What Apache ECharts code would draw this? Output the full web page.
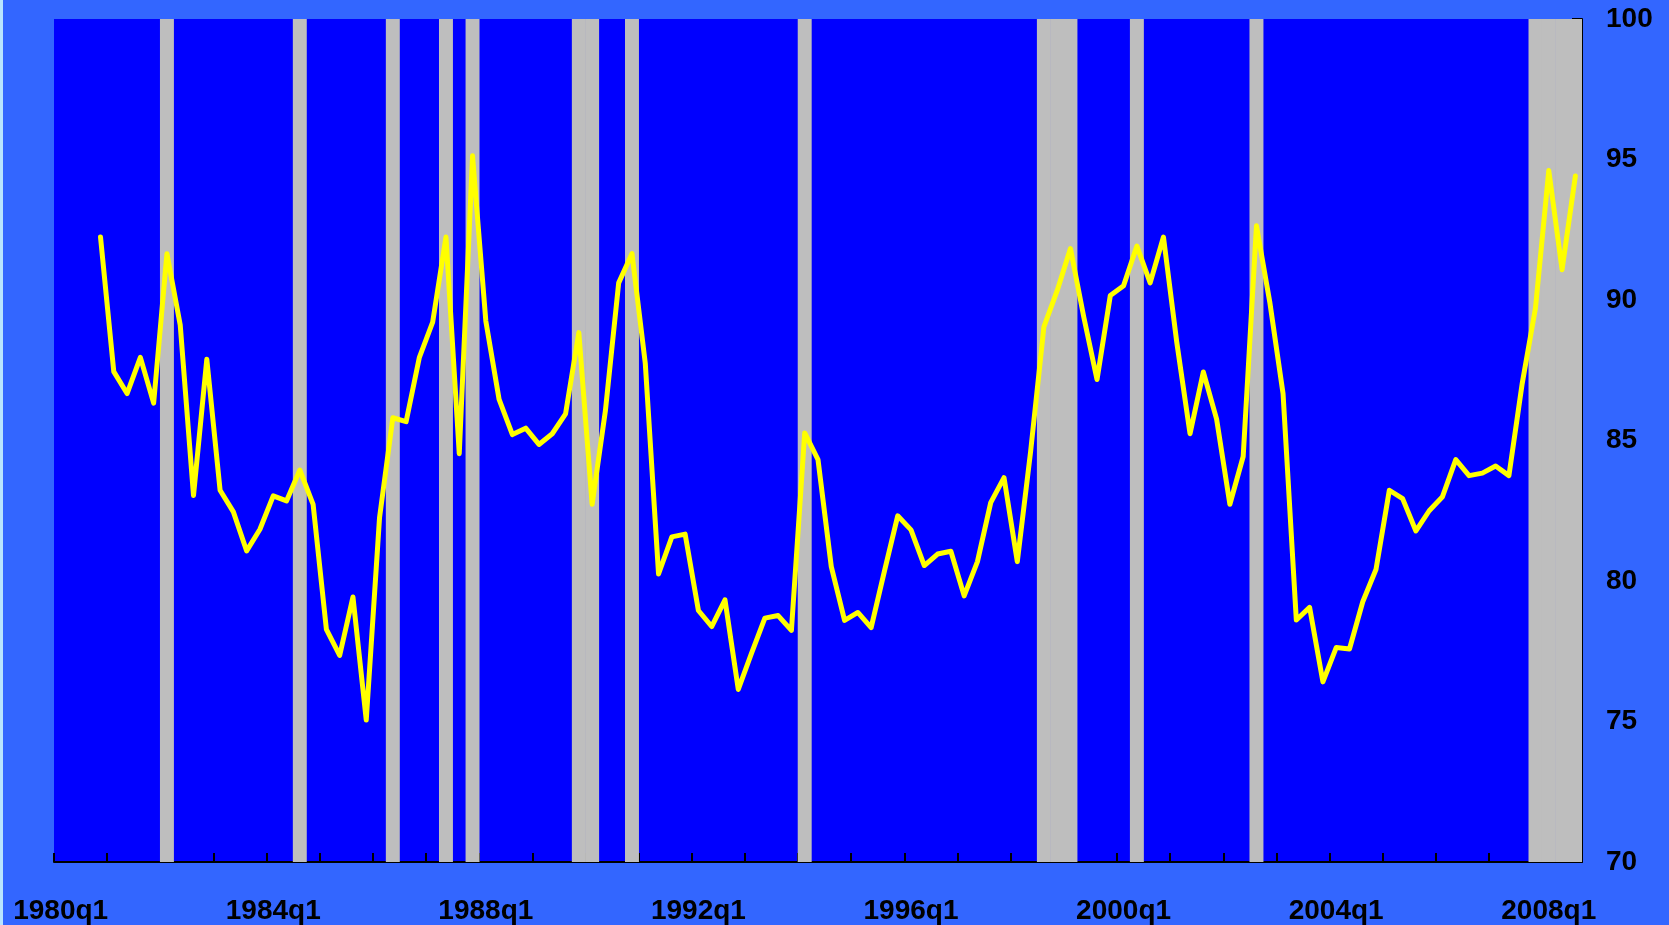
<!DOCTYPE html>
<html>
<head>
<meta charset="utf-8">
<script src="https://cdn.jsdelivr.net/npm/echarts@6/dist/echarts.min.js"></script>
<style>
  html, body { margin: 0; padding: 0; background: #3366FF; }
  #wrap { position: relative; width: 1669px; height: 925px; }
  #chart { width: 1669px; height: 925px; }
  #edge { position: absolute; left: 0; top: 0; width: 3px; height: 925px; background: #B8E4FF; }
</style>
</head>
<body>
<div id="wrap">
  <div id="chart"></div>
  <div id="edge"></div>
</div>
<script>
// Quarterly categories 1980q1 .. 2008q3
const firstYear = 1980;
const categoryCount = 115;
const categories = [];
for (let i = 0; i < categoryCount; i++) {
  categories.push((firstYear + Math.floor(i / 4)) + 'q' + (i % 4 + 1));
}

// Series values (null where there is no observation: 1980q1-1980q3)
const values = [
  null, null, null, 92.24,
  87.45, 86.67, 87.96, 86.33,
  91.65, 89.11, 83.04, 87.89,
  83.23, 82.46, 81.07, 81.84,
  83.03, 82.85, 83.95, 82.73,
  78.28, 77.35, 79.43, 75.05,
  82.25, 85.81, 85.67, 87.96,
  89.21, 92.24, 84.53, 95.13,
  89.25, 86.46, 85.21, 85.44,
  84.86, 85.24, 85.95, 88.84,
  82.73, 86.06, 90.61, 91.65,
  87.75, 80.25, 81.57, 81.67,
  78.95, 78.38, 79.33, 76.14,
  77.43, 78.68, 78.77, 78.24,
  85.27, 84.32, 80.51, 78.60,
  78.88, 78.34, 80.35, 82.32,
  81.82, 80.55, 80.96, 81.06,
  79.47, 80.69, 82.79, 83.68,
  80.69, 84.60, 89.04, 90.33,
  91.83, 89.40, 87.17, 90.16,
  90.51, 91.92, 90.61, 92.24,
  88.50, 85.24, 87.44, 85.76,
  82.73, 84.43, 92.64, 89.93,
  86.67, 78.61, 79.06, 76.41,
  77.63, 77.58, 79.26, 80.42,
  83.23, 82.93, 81.78, 82.50,
  83.00, 84.32, 83.75, 83.84,
  84.09, 83.75, 87.03, 89.72,
  94.61, 91.08, 94.41
];

// Shaded (grey) quarters
const shadedQuarters = [
  '1982q1', '1984q3', '1986q2', '1987q2', '1987q4',
  '1989q4', '1990q1', '1990q4', '1994q1',
  '1998q3', '1998q4', '1999q1', '2000q2', '2002q3',
  '2007q4', '2008q1', '2008q2', '2008q3'
];
const shadeTop = 100;

// Y axis ticks
const yMin = 70, yMax = 100, yStep = 5;

const shadeData = categories.map(c => shadedQuarters.indexOf(c) >= 0 ? shadeTop : '-');

const fontFamily = '"Liberation Sans", Arial, Helvetica, sans-serif';

const chart = echarts.init(document.getElementById('chart'), null, { renderer: 'canvas' });
chart.setOption({
  backgroundColor: '#3366FF',
  animation: false,
  grid: {
    left: 54, right: 87, top: 19, bottom: 61,
    show: true, backgroundColor: '#0000FF', borderWidth: 0
  },
  xAxis: {
    type: 'category',
    data: categories,
    boundaryGap: true,
    axisLine: { show: true, lineStyle: { color: '#000', width: 2 } },
    axisTick: { show: true, inside: true, interval: 3, length: 9, lineStyle: { color: '#000', width: 2 } },
    axisLabel: {
      interval: 15, margin: 35,
      color: '#000', fontSize: 28, fontWeight: 'bold', fontFamily: fontFamily
    },
    splitLine: { show: false }
  },
  yAxis: {
    type: 'value',
    position: 'right',
    min: yMin, max: yMax, interval: yStep,
    axisLine: { show: true, lineStyle: { color: '#000', width: 2 } },
    axisTick: { show: true, inside: true, length: 10, lineStyle: { color: '#000', width: 2 } },
    minorTick: { show: true, splitNumber: 5, length: 8, lineStyle: { color: '#000', width: 1.5 } },
    axisLabel: {
      margin: 24,
      color: '#000', fontSize: 28, fontWeight: 'bold', fontFamily: fontFamily
    },
    splitLine: { show: false }
  },
  series: [
    {
      type: 'bar',
      data: shadeData,
      barWidth: '105%',
      barGap: '-100%',
      barCategoryGap: '0%',
      itemStyle: { color: '#BEBEBE' },
      silent: true,
      clip: true,
      z: 1
    },
    {
      type: 'line',
      data: values,
      showSymbol: false,
      symbol: 'none',
      connectNulls: false,
      lineStyle: { color: '#FFFF00', width: 5, cap: 'round', join: 'round' },
      z: 3
    }
  ]
});
</script>
</body>
</html>
